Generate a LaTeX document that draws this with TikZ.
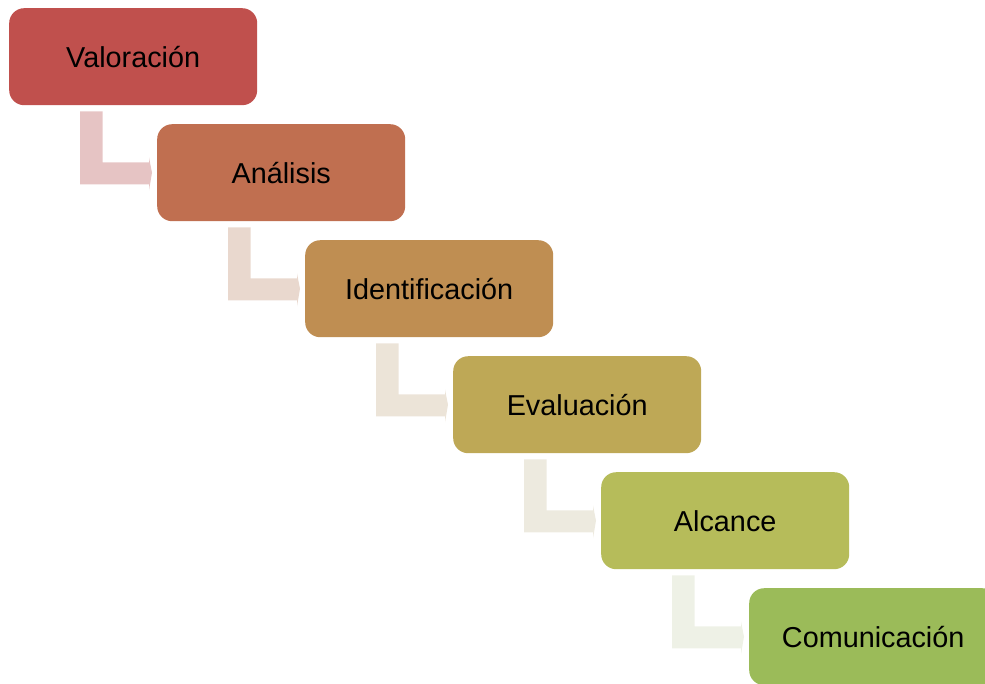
\documentclass[tikz,border=0pt]{standalone}
\usepackage{fontspec}
\setmainfont{Liberation Sans}
\usetikzlibrary{calc}
\definecolor{c1}{HTML}{C0504D}
\definecolor{c2}{HTML}{C06F50}
\definecolor{c3}{HTML}{BF8E52}
\definecolor{c4}{HTML}{BEA856}
\definecolor{c5}{HTML}{B6BC5A}
\definecolor{c6}{HTML}{9BBB59}
\definecolor{k1}{HTML}{E6C4C4}
\definecolor{k2}{HTML}{E9D8CE}
\definecolor{k3}{HTML}{ECE4D8}
\definecolor{k4}{HTML}{EDEADF}
\definecolor{k5}{HTML}{EEF1E6}
\newcommand\mybend[3]{%
  \fill[#3] ($(#1.south west)+(71,6)$) -- ($(#1.south west)+(93.5,6)$)
    -- ($(#1.south west)+(93.5,57)$) -- ($(#1.south west)+(140,57)$)
    -- ($(#1.south west)+(140,52)$) -- ($(#2.west)+(-5,0)$)
    -- ($(#1.south west)+(140,85)$) -- ($(#1.south west)+(140,79)$)
    -- ($(#1.south west)+(71,79)$) -- cycle;}
\begin{document}
\begin{tikzpicture}[x=1pt,y=-1pt,
  stage/.style={rounded corners=15pt, minimum width=248pt, minimum height=97pt,
    inner sep=0pt, anchor=north west, text=black,
    font=\fontsize{28.8}{34}\selectfont}]
\path[use as bounding box] (0,0) rectangle (985,683);
\node[stage, fill=c1] (n1) at (9,8) {Valoración};
\node[stage, fill=c2] (n2) at (157,124) {Análisis};
\node[stage, fill=c3] (n3) at (305,240) {Identificación};
\node[stage, fill=c4] (n4) at (453,356) {Evaluación};
\node[stage, fill=c5] (n5) at (601,472) {Alcance};
\node[stage, fill=c6] (n6) at (749,588) {Comunicación};
\mybend{n1}{n2}{k1}
\mybend{n2}{n3}{k2}
\mybend{n3}{n4}{k3}
\mybend{n4}{n5}{k4}
\mybend{n5}{n6}{k5}
\end{tikzpicture}
\end{document}
